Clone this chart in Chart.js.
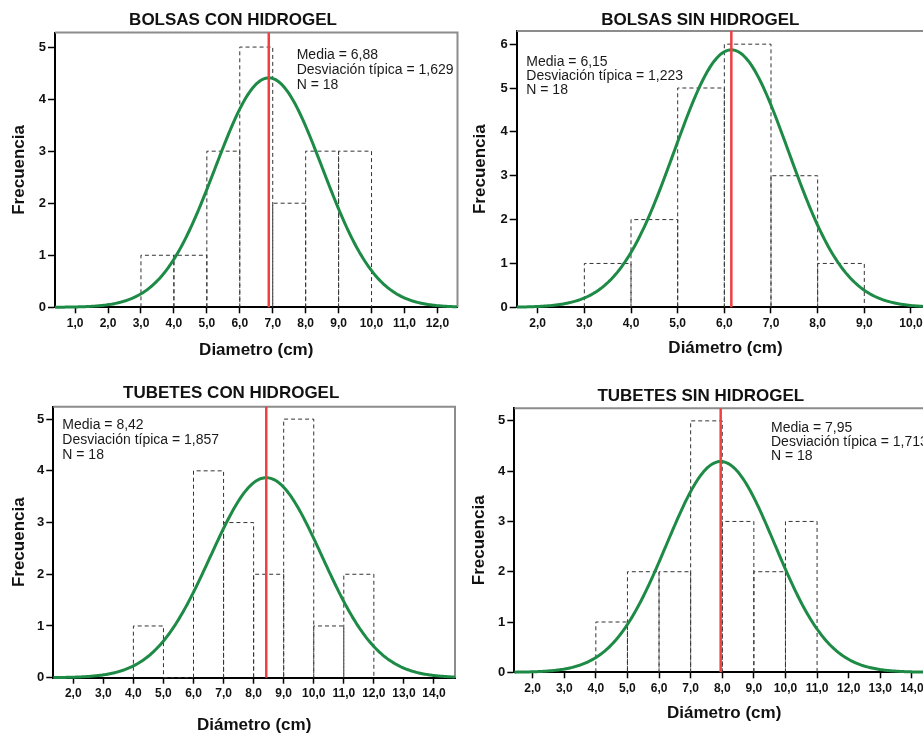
<!DOCTYPE html>
<html lang="es">
<head>
    <meta charset="UTF-8">
    <title>Diámetro - histogramas</title>
    <script src="https://cdn.jsdelivr.net/npm/chart.js"></script>
    <style>
        html, body {
            margin: 0;
            padding: 0;
            background: #ffffff;
            width: 923px;
            height: 733px;
            overflow: hidden;
            position: relative;
        }
        canvas {
            position: absolute;
        }
    </style>
</head>
<body>
    <canvas id="g1"></canvas>
    <canvas id="g2"></canvas>
    <canvas id="g3"></canvas>
    <canvas id="g4"></canvas>

    <script>
        // ---- datos ----
        const titulos = ['BOLSAS CON HIDROGEL', 'BOLSAS SIN HIDROGEL', 'TUBETES CON HIDROGEL', 'TUBETES SIN HIDROGEL'];
        const titulosX = ['Diametro (cm)', 'Diámetro (cm)', 'Diámetro (cm)', 'Diámetro (cm)'];
        const tituloY = 'Frecuencia';

        const medias = [6.88, 6.15, 8.42, 7.95];
        const desviaciones = [1.629, 1.223, 1.857, 1.713];
        const nTotal = [18, 18, 18, 18];
        const anchoBin = 1;

        // limite inferior de cada barra y su frecuencia
        const limitesBolsasCon = [3, 4, 5, 6, 7, 8, 9];
        const frecBolsasCon = [1, 1, 3, 5, 2, 3, 3];
        const limitesBolsasSin = [3, 4, 5, 6, 7, 8];
        const frecBolsasSin = [1, 2, 5, 6, 3, 1];
        const limitesTubetesCon = [4, 5, 6, 7, 8, 9, 10, 11];
        const frecTubetesCon = [1, 0, 4, 3, 2, 5, 1, 2];
        const limitesTubetesSin = [4, 5, 6, 7, 8, 9, 10];
        const frecTubetesSin = [1, 2, 2, 5, 3, 2, 3];

        // marcas de los ejes
        const ticksXBolsasCon = [1, 2, 3, 4, 5, 6, 7, 8, 9, 10, 11, 12];
        const ticksXBolsasSin = [2, 3, 4, 5, 6, 7, 8, 9, 10];
        const ticksXTubetesCon = [2, 3, 4, 5, 6, 7, 8, 9, 10, 11, 12, 13, 14];
        const ticksXTubetesSin = [2, 3, 4, 5, 6, 7, 8, 9, 10, 11, 12, 13, 14];
        const ticksYBolsasCon = [0, 1, 2, 3, 4, 5];
        const ticksYBolsasSin = [0, 1, 2, 3, 4, 5, 6];
        const ticksYTubetesCon = [0, 1, 2, 3, 4, 5];
        const ticksYTubetesSin = [0, 1, 2, 3, 4, 5];

        const limites = [limitesBolsasCon, limitesBolsasSin, limitesTubetesCon, limitesTubetesSin];
        const frecuencias = [frecBolsasCon, frecBolsasSin, frecTubetesCon, frecTubetesSin];
        const ticksX = [ticksXBolsasCon, ticksXBolsasSin, ticksXTubetesCon, ticksXTubetesSin];
        const ticksY = [ticksYBolsasCon, ticksYBolsasSin, ticksYTubetesCon, ticksYTubetesSin];

        // ---- posiciones en la pagina (px) ----
        const disposicion = [
            { cl: 0,   plotL: 55,    plotR: 457.5, plotT: 32.5,  plotB: 307.3, xMin: 0.39,  xMax: 12.61, yMax: 5.28,
              titleX: 233,   titleY: 20.8,  xTitleY: 350, yTitleX: 19.5,  annX: 296.7, annY: 54.7,  annDy: 15.2 },
            { cl: 462, plotL: 516.7, plotR: 934.3, plotT: 31,    plotB: 307.3, xMin: 1.55,  xMax: 10.5,  yMax: 6.30,
              titleX: 700.3, titleY: 20,    xTitleY: 348, yTitleX: 480.8, annX: 526.3, annY: 62.5,  annDy: 14 },
            { cl: 0,   plotL: 53.3,  plotR: 455,   plotT: 406.7, plotB: 677.7, xMin: 1.335, xMax: 14.70, yMax: 5.24,
              titleX: 231.2, titleY: 393.3, xTitleY: 725, yTitleX: 19.2,  annX: 62.3,  annY: 424.7, annDy: 15 },
            { cl: 462, plotL: 514.3, plotR: 934,   plotT: 408.3, plotB: 672.3, xMin: 1.42,  xMax: 14.70, yMax: 5.25,
              titleX: 700.8, titleY: 396.2, xTitleY: 713, yTitleX: 479.8, annX: 771,   annY: 428,   annDy: 14.2 }
        ];

        const fuente = "'Liberation Sans', Arial, sans-serif";
        Chart.defaults.font.family = fuente;
        const LH = 17 * 1.2; // alto de linea de los titulos

        const coma = (v, d) => v.toFixed(d).replace('.', ',');

        // contorno de las barras del histograma (rectangulos separados por huecos)
        function contornoBarras(lims, frecs) {
            const pts = [];
            frecs.forEach((f, k) => {
                const a = lims[k], b = lims[k] + anchoBin;
                pts.push({ x: a, y: 0 }, { x: a, y: f }, { x: b, y: f }, { x: b, y: 0 }, { x: b, y: null });
            });
            return pts;
        }

        // curva normal ajustada con la media y desviacion de cada grupo
        function curvaNormal(m, s, n, desde, hasta) {
            const pts = [];
            const k = n * anchoBin / (s * Math.sqrt(2 * Math.PI));
            for (let x = desde; x <= hasta + 1e-9; x += 0.04) {
                pts.push({ x: x, y: k * Math.exp(-0.5 * ((x - m) / s) ** 2) });
            }
            return pts;
        }

        // marco gris arriba/derecha y texto de estadisticos
        const marcoPlugin = {
            id: 'marco',
            beforeDatasetsDraw(chart) {
                const { ctx, chartArea: a } = chart;
                ctx.save();
                ctx.strokeStyle = '#8c8c8c';
                ctx.lineWidth = 2;
                ctx.beginPath();
                ctx.moveTo(a.left, a.top);
                ctx.lineTo(a.right, a.top);
                ctx.lineTo(a.right, a.bottom);
                ctx.stroke();
                ctx.restore();
            },
            afterDatasetsDraw(chart, args, opts) {
                if (!opts.lineas) return;
                const ctx = chart.ctx;
                ctx.save();
                ctx.fillStyle = '#1a1a1a';
                ctx.font = '14px ' + fuente;
                ctx.textBaseline = 'middle';
                ctx.textAlign = 'left';
                opts.lineas.forEach((t, k) => ctx.fillText(t, opts.x, opts.y + k * opts.dy));
                ctx.restore();
            }
        };

        function crearPanel(i) {
            const L = disposicion[i];
            const cv = document.getElementById('g' + (i + 1));

            const ct = Math.floor(L.titleY - LH / 2 - 1);
            const tpT = L.titleY - LH / 2 - ct;
            const tpB = L.plotT - ct - tpT - LH;
            const cw = Math.ceil(L.plotR - L.cl) + 2;
            const pr = L.cl + cw - L.plotR;
            const pl = 2 * L.titleX - L.plotR - L.cl;
            const yW = L.plotL - L.cl - pl;
            const ch = Math.ceil(L.xTitleY + 12 - ct);
            const xH = ct + ch - L.plotB;
            const xTitlePad = ct + ch - L.xTitleY - LH / 2;
            const yTitlePad = L.yTitleX - (L.cl + pl) - LH / 2;

            cv.width = cw;
            cv.height = ch;
            cv.style.left = L.cl + 'px';
            cv.style.top = ct + 'px';

            const m = medias[i], s = desviaciones[i], n = nTotal[i];

            new Chart(cv, {
                type: 'line',
                data: {
                    datasets: [
                        {
                            label: 'Media',
                            data: [{ x: m, y: 0 }, { x: m, y: L.yMax }],
                            borderColor: '#f04040',
                            borderWidth: 2.5,
                            pointRadius: 0,
                            clip: false
                        },
                        {
                            label: 'Normal',
                            data: curvaNormal(m, s, n, L.xMin, L.xMax),
                            borderColor: '#1d8a45',
                            borderWidth: 3,
                            pointRadius: 0,
                            tension: 0,
                            clip: false
                        },
                        {
                            label: 'Frecuencia',
                            data: contornoBarras(limites[i], frecuencias[i]),
                            borderColor: '#333333',
                            borderWidth: 1,
                            borderDash: [4, 3],
                            pointRadius: 0,
                            spanGaps: false,
                            clip: false
                        }
                    ]
                },
                options: {
                    responsive: false,
                    animation: false,
                    devicePixelRatio: 1,
                    layout: { padding: { top: 0, left: pl, right: pr, bottom: 0 } },
                    plugins: {
                        legend: { display: false },
                        tooltip: { enabled: false },
                        title: {
                            display: true,
                            text: titulos[i],
                            color: '#111',
                            font: { size: 17, weight: 'bold' },
                            padding: { top: tpT, bottom: tpB }
                        },
                        marco: {
                            lineas: ['Media = ' + coma(m, 2), 'Desviación típica = ' + coma(s, 3), 'N = ' + n],
                            x: L.annX - L.cl,
                            y: L.annY - ct,
                            dy: L.annDy
                        }
                    },
                    scales: {
                        x: {
                            type: 'linear',
                            min: L.xMin,
                            max: L.xMax,
                            afterBuildTicks: sc => { sc.ticks = ticksX[i].map(v => ({ value: v })); },
                            afterFit: sc => { sc.height = xH; },
                            grid: { drawOnChartArea: false, tickLength: 6, tickColor: '#000', tickWidth: 1.5 },
                            border: { color: '#000', width: 2 },
                            ticks: {
                                color: '#111',
                                padding: 3,
                                maxRotation: 0,
                                autoSkip: false,
                                font: { size: 12, weight: 'bold' },
                                callback: v => coma(v, 1)
                            },
                            title: {
                                display: true,
                                text: titulosX[i],
                                color: '#111',
                                font: { size: 17, weight: 'bold' },
                                padding: { top: 0, bottom: xTitlePad }
                            }
                        },
                        y: {
                            type: 'linear',
                            min: 0,
                            max: L.yMax,
                            afterBuildTicks: sc => { sc.ticks = ticksY[i].map(v => ({ value: v })); },
                            afterFit: sc => { sc.width = yW; },
                            grid: { drawOnChartArea: false, tickLength: 7, tickColor: '#000', tickWidth: 1.5 },
                            border: { color: '#000', width: 2 },
                            ticks: {
                                color: '#111',
                                padding: 2,
                                autoSkip: false,
                                font: { size: 13, weight: 'bold' },
                                callback: v => String(v)
                            },
                            title: {
                                display: true,
                                text: tituloY,
                                color: '#111',
                                font: { size: 17, weight: 'bold' },
                                padding: { top: yTitlePad, bottom: 0 }
                            }
                        }
                    }
                },
                plugins: [marcoPlugin]
            });
        }

        for (let i = 0; i < 4; i++) crearPanel(i);
    </script>
</body>
</html>
